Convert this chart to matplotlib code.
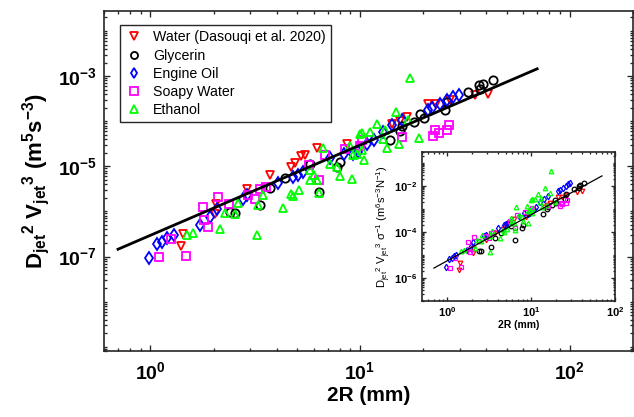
import matplotlib
matplotlib.use('Agg')
import matplotlib.pyplot as plt
import matplotlib.ticker as ticker
import numpy as np

plt.rcParams['font.family'] = ['Liberation Sans', 'DejaVu Sans']
plt.rcParams['mathtext.fontset'] = 'custom'
plt.rcParams['mathtext.rm'] = 'Liberation Sans'
plt.rcParams['mathtext.it'] = 'Liberation Sans:italic'
plt.rcParams['mathtext.bf'] = 'Liberation Sans:bold'

# 2R (mm) and D_jet^2 V_jet^3 (m^5 s^-3)
water_x = [1.40, 1.43, 2.03, 2.06, 2.88, 3.70, 4.69, 4.90, 5.24, 5.47, 6.22, 8.7,
           14.2, 15.5, 16.7, 21.2, 23.1, 26.9, 35.4, 41.0]
water_y = [1.67e-7, 3.2e-7, 8.9e-7, 1.48e-6, 3.2e-6, 6.5e-6, 9.6e-6, 1.18e-5, 1.67e-5,
           1.75e-5, 2.6e-5, 3.1e-5, 8.9e-5, 1.02e-4, 1.25e-4, 2.47e-4, 2.39e-4, 3.0e-4,
           3.8e-4, 4.1e-4]

glycerin_x = [2.40, 2.54, 3.34, 3.72, 4.39, 5.78, 6.4, 8.0, 7.8, 13.9, 15.5, 15.8, 18.0,
              19.4, 20.1, 25.5, 26.0, 32.9, 37.1, 38.8, 37.4, 43.3]
glycerin_y = [9.6e-7, 9.3e-7, 1.36e-6, 3.3e-6, 5.5e-6, 1.15e-5, 2.7e-6, 1.25e-5, 9.6e-6,
              3.8e-5, 6.1e-5, 7.7e-5, 9.6e-5, 1.48e-4, 1.15e-4, 1.75e-4, 2.7e-4, 4.5e-4,
              6.3e-4, 6.6e-4, 5.3e-4, 8.4e-4]

oil_x = [0.98, 1.07, 1.14, 1.20, 1.29, 1.72, 1.92, 2.07, 2.77, 2.88, 4.08, 4.81, 5.08,
         5.33, 7.19, 8.34, 9.3, 9.8, 10.8, 11.6, 12.9, 14.2, 15.8, 21.2, 22.0, 24.1,
         26.0, 27.9, 29.5]
oil_y = [9.2e-8, 1.91e-7, 2.15e-7, 2.6e-7, 2.93e-7, 4.9e-7, 7.7e-7, 1.15e-6, 1.91e-6,
         2.27e-6, 4.26e-6, 5.8e-6, 6.5e-6, 7.5e-6, 1.53e-5, 1.91e-5, 1.85e-5, 2.08e-5,
         3.1e-5, 3.8e-5, 5.8e-5, 8.1e-5, 1.05e-4, 1.75e-4, 1.98e-4, 2.47e-4, 3.0e-4,
         3.47e-4, 3.9e-4]

soapy_x = [1.10, 1.25, 1.48, 1.79, 1.81, 1.89, 2.09, 2.38, 2.93, 3.16, 3.34, 3.56, 5.71,
           6.81, 6.40, 8.5, 10.0, 10.2, 15.8, 22.2, 22.8, 23.7, 26.1, 26.7]
soapy_y = [9.6e-8, 2.47e-7, 1.05e-7, 1.25e-6, 6.3e-7, 4.6e-7, 2.08e-6, 1.43e-6, 2.35e-6,
           1.91e-6, 3.2e-6, 3.4e-6, 1.09e-5, 1.82e-5, 5.1e-6, 2.47e-5, 2.78e-5, 3.8e-5,
           4.5e-5, 4.6e-5, 6.3e-5, 5.5e-5, 6.5e-5, 8.1e-5]

ethanol_x = [1.49, 1.59, 2.15, 2.27, 2.54, 2.63, 3.27, 3.46, 3.22, 4.31, 4.69, 5.14, 4.81,
             6.40, 5.78, 6.22, 6.0, 5.78, 6.69, 7.19, 7.75, 8.04, 9.14, 9.3, 10.0, 10.4,
             9.7, 10.2, 17.3, 14.9, 12.0, 11.1, 10.2, 13.2, 12.9, 17.0, 19.2, 15.4, 13.4,
             8.97]
ethanol_y = [3.0e-7, 3.3e-7, 4.1e-7, 9.3e-7, 8.9e-7, 1.53e-6, 1.36e-6, 2.35e-6, 2.93e-7,
             1.18e-6, 2.47e-6, 2.93e-6, 2.15e-6, 2.55e-6, 4.9e-6, 4.9e-6, 6.3e-6, 8.1e-6,
             2.6e-5, 1.15e-5, 9.6e-6, 6.0e-6, 5.3e-6, 1.75e-5, 5.3e-5, 1.41e-5, 1.91e-5,
             2.27e-5, 8.9e-4, 1.61e-4, 8.9e-5, 5.8e-5, 5.5e-5, 6.5e-5, 4.1e-5, 1.05e-4,
             4.3e-5, 3.2e-5, 2.6e-5, 2.78e-5]

# surface tension (N/m) used for the inset normalisation
sigma = {'water': 0.072, 'glycerin': 0.063, 'oil': 0.03, 'soapy': 0.035, 'ethanol': 0.021}

# fitted power law lines (main and inset)
fit_x = [0.7, 70]
fit_coef = 2.96e-7
inset_coef = 5.5e-6

series = [
    ('Water (Dasouqi et al. 2020)', water_x, water_y, 'water', 'v', 'red'),
    ('Glycerin', glycerin_x, glycerin_y, 'glycerin', 'o', 'black'),
    ('Engine Oil', oil_x, oil_y, 'oil', 'd', 'blue'),
    ('Soapy Water', soapy_x, soapy_y, 'soapy', 's', 'magenta'),
    ('Ethanol', ethanol_x, ethanol_y, 'ethanol', '^', '#00ff00'),
]

edge = '#262626'


def dec_fmt(v, pos):
    return r'$\mathbf{10^{%d}}$' % round(np.log10(v))


def style_axes(a, lw, major, minor, size, ymajor):
    a.set_xscale('log')
    a.set_yscale('log')
    for s in a.spines.values():
        s.set_linewidth(lw)
        s.set_color(edge)
    a.xaxis.set_major_locator(ticker.FixedLocator([1, 10, 100]))
    a.xaxis.set_minor_locator(ticker.LogLocator(base=10, subs=np.arange(2, 10), numticks=20))
    a.yaxis.set_major_locator(ticker.FixedLocator(ymajor))
    a.yaxis.set_minor_locator(ticker.LogLocator(base=10, subs=np.arange(1, 10), numticks=30))
    a.xaxis.set_major_formatter(ticker.FuncFormatter(dec_fmt))
    a.yaxis.set_major_formatter(ticker.FuncFormatter(dec_fmt))
    a.xaxis.set_minor_formatter(ticker.NullFormatter())
    a.yaxis.set_minor_formatter(ticker.NullFormatter())
    a.tick_params(which='both', direction='in', top=True, right=True, color=edge,
                  width=lw * 0.8, labelsize=size)
    a.tick_params(which='major', length=major)
    a.tick_params(which='minor', length=minor)


fig = plt.figure(figsize=(6.34, 4.17), dpi=100)
ax = fig.add_axes([0.164, 0.158, 0.834, 0.816])

for label, xs, ys, key, m, c in series:
    ax.plot(xs, ys, linestyle='none', marker=m, markersize=6, markerfacecolor='none',
            markeredgecolor=c, markeredgewidth=1.3, label=label)

fx = np.array(fit_x)
ax.plot(fx, fit_coef * fx ** 2, color='black', linewidth=2, zorder=5)

ax.set_xlim(0.6, 200)
ax.set_ylim(8e-10, 2.8e-2)
style_axes(ax, 1.2, 4.5, 2.2, 14, [1e-7, 1e-5, 1e-3])
ax.tick_params(axis='x', pad=7)
ax.tick_params(axis='y', pad=5)

ax.set_xlabel('2R (mm)', fontsize=15, fontweight='bold', labelpad=2)
ax.set_ylabel(r'$\mathbf{D_{jet}{}^{2}\ V_{jet}{}^{3}\ (m^{5}s^{-3})}$', fontsize=16,
              labelpad=4)

leg = ax.legend(loc='upper left', bbox_to_anchor=(0.017, 0.978), fontsize=10.2,
                handlelength=1.2, handletextpad=0.8, labelspacing=0.3, borderpad=0.35,
                markerscale=0.85, fancybox=False, framealpha=1)
leg.get_frame().set_edgecolor(edge)
leg.get_frame().set_linewidth(1.0)

# inset: normalised by surface tension
ins = fig.add_axes([0.665, 0.278, 0.305, 0.358])
for label, xs, ys, key, m, c in series:
    ins.plot(xs, np.array(ys) / sigma[key], linestyle='none', marker=m, markersize=3.3,
             markerfacecolor='none', markeredgecolor=c, markeredgewidth=0.9)
ins.plot(fx, inset_coef * fx ** 2, color='black', linewidth=0.9, zorder=5)
ins.set_xlim(0.5, 100)
ins.set_ylim(1e-7, 3e-1)
style_axes(ins, 1.2, 3, 1.5, 8, [1e-6, 1e-4, 1e-2])
ins.tick_params(axis='both', pad=3)
ins.set_xlabel('2R (mm)', fontsize=7.5, fontweight='bold', labelpad=1)
ins.set_ylabel(r'$\mathrm{D_{jet}{}^{2}\ V_{jet}{}^{3}\ \sigma^{-1}\ (m^{6}s^{-3}N^{-1})}$',
               fontsize=8, labelpad=1)

fig.savefig('out.png', dpi=100)
